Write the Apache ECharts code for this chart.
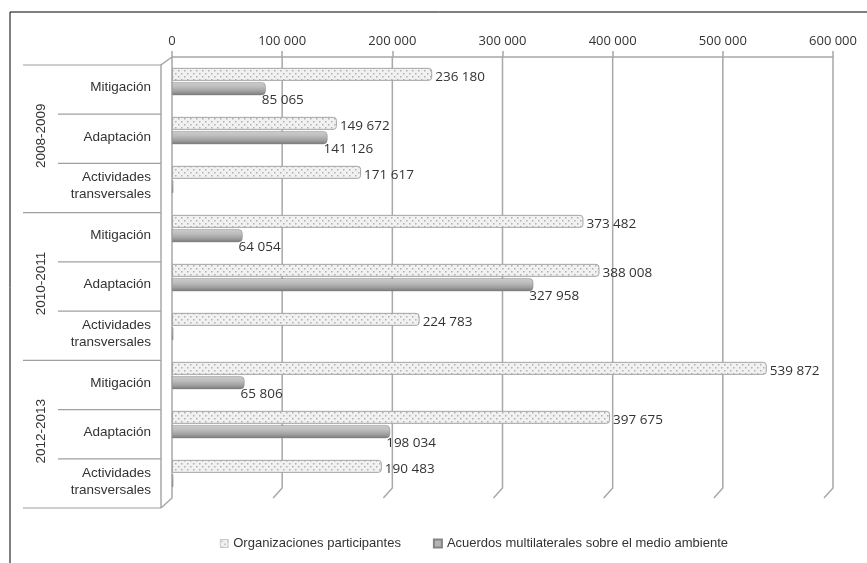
<!DOCTYPE html>
<html>
<head>
<meta charset="utf-8">
<script src="https://cdn.jsdelivr.net/npm/echarts@6/dist/echarts.min.js"></script>
<style>
  html, body { margin: 0; padding: 0; background: #fff; }
  #chart { width: 867px; height: 563px; }
</style>
</head>
<body>
<div id="chart"></div>
<script>
// Categories (rows, top to bottom) and the period each block of three rows belongs to
const categories = [
  'Mitigación', 'Adaptación', 'Actividades\ntransversales',
  'Mitigación', 'Adaptación', 'Actividades\ntransversales',
  'Mitigación', 'Adaptación', 'Actividades\ntransversales'
];
const periods = ['2008-2009', '2010-2011', '2012-2013'];

// Series values
const organizaciones = [236180, 149672, 171617, 373482, 388008, 224783, 539872, 397675, 190483];
const acuerdos = [85065, 141126, 1200, 64054, 327958, 1200, 65806, 198034, 1200];

// Value axis ticks
const xTicks = [0, 100000, 200000, 300000, 400000, 500000, 600000];

const seriesNames = ['Organizaciones participantes', 'Acuerdos multilaterales sobre el medio ambiente'];

const numFont = '"Open Sans", sans-serif';
const txtFont = '"Liberation Sans", Arial, sans-serif';
const gridColor = '#a8a8a8';

function fmt(v) {
  return String(v).replace(/\B(?=(\d{3})+(?!\d))/g, ' ');
}

// Dotted fill for the first series
function dottedPattern() {
  const c = document.createElement('canvas');
  c.width = 6; c.height = 6;
  const g = c.getContext('2d');
  g.fillStyle = '#f1f1f1';
  g.fillRect(0, 0, 6, 6);
  g.fillStyle = '#b0b0b0';
  g.fillRect(1, 1, 1.5, 1.5);
  g.fillRect(4, 4, 1.5, 1.5);
  return c;
}
const pattern = { image: dottedPattern(), repeat: 'repeat' };

const cylinder = {
  type: 'linear', x: 0, y: 0, x2: 0, y2: 1,
  colorStops: [
    { offset: 0, color: '#cccccc' },
    { offset: 0.35, color: '#bebebe' },
    { offset: 0.75, color: '#9c9c9c' },
    { offset: 1, color: '#767676' }
  ]
};

const chart = echarts.init(document.getElementById('chart'), null, { renderer: 'canvas' });

const option = {
  animation: false,
  backgroundColor: '#fff',
  grid: { left: 172, right: 34, top: 57, bottom: 65, containLabel: false },
  legend: {
    bottom: 8,
    left: 215,
    itemWidth: 8,
    itemHeight: 8,
    itemGap: 32,
    icon: 'rect',
    textStyle: { fontFamily: txtFont, fontSize: 13, color: '#333' },
    data: [
      { name: seriesNames[0], itemStyle: { color: pattern, borderColor: '#9a9a9a', borderWidth: 0.5 } },
      { name: seriesNames[1], itemStyle: { color: '#b4b4b4' } }
    ]
  },
  xAxis: {
    type: 'value',
    position: 'top',
    min: xTicks[0],
    max: xTicks[xTicks.length - 1],
    interval: xTicks[1] - xTicks[0],
    axisLine: { show: true, lineStyle: { color: gridColor, width: 1.5 } },
    axisTick: { show: true, length: 6, lineStyle: { color: gridColor, width: 1.5 } },
    splitLine: { show: false },
    axisLabel: {
      margin: 9,
      fontFamily: numFont,
      fontSize: 13,
      color: '#333',
      formatter: fmt
    }
  },
  yAxis: {
    type: 'category',
    inverse: true,
    data: categories,
    axisLine: { show: false },
    axisTick: { show: false },
    // row names are drawn on the front edge of the perspective wall below
    axisLabel: { show: false }
  },
  series: [
    {
      name: seriesNames[0],
      type: 'bar',
      data: organizaciones,
      barWidth: 13,
      barGap: '10%',
      itemStyle: {
        color: pattern,
        borderColor: '#a4a4a4',
        borderWidth: 1,
        borderRadius: [0, 3, 3, 0]
      },
      label: {
        show: true,
        position: 'right',
        distance: 3,
        offset: [0, 3],
        fontFamily: numFont,
        fontSize: 13.5,
        color: '#333',
        formatter: p => fmt(p.value)
      }
    },
    {
      name: seriesNames[1],
      type: 'bar',
      data: acuerdos,
      barWidth: 13,
      itemStyle: {
        color: cylinder,
        borderColor: '#858585',
        borderWidth: 0.5,
        borderRadius: [0, 4, 4, 0]
      },
      label: {
        show: true,
        position: 'right',
        distance: 0,
        offset: [-4, 12],
        fontFamily: numFont,
        fontSize: 13.5,
        color: '#333',
        // the small transversal amounts carry no label
        formatter: p => (p.value >= 10000 ? fmt(p.value) : '')
      }
    }
  ]
};

chart.setOption(option);

// Frame, perspective walls, gridlines, row separators and row names, positioned from the axes
function decorate() {
  const rect = chart.getModel().getComponent('grid').coordinateSystem.getRect();
  const top = rect.y, bottom = rect.y + rect.height;
  const dx = -11, dy = 8;        // depth offset of the front edge
  const frontRowH = (rect.height + 2) / categories.length;
  const front0 = chart.convertToPixel({ xAxisIndex: 0 }, xTicks[0]) + dx;
  const els = [];
  const line = (pts, color, w) => els.push({
    type: 'polyline', silent: true, z: 1,
    shape: { points: pts },
    style: { stroke: color, lineWidth: w, fill: null }
  });
  const text = (str, x, y, align, rot) => els.push({
    type: 'text', silent: true, z: 5,
    x: x, y: y, rotation: rot || 0,
    style: {
      text: str, fontFamily: txtFont, fontSize: 13.5, lineHeight: 17, fill: '#333',
      align: align, verticalAlign: 'middle'
    }
  });

  // outer frame (top and left edges)
  line([[10, 563], [10, 12], [867, 12]], '#000', 1);

  // back-wall gridlines with their floor diagonals
  xTicks.forEach((v, i) => {
    const px = chart.convertToPixel({ xAxisIndex: 0 }, v);
    if (i === 0) {
      line([[px, top], [px, bottom], [px + dx, bottom + dy + 2]], gridColor, 1.5);
    } else {
      line([[px, top], [px, bottom - 10], [px + dx + 2, bottom]], gridColor, 1.5);
    }
  });

  // left wall front edge
  line([[rect.x, top], [front0, top + dy], [front0, bottom + dy + 2]], gridColor, 1.5);

  // row separators in the label column
  for (let k = 0; k <= categories.length; k++) {
    const y = top + dy + k * frontRowH;
    const x0 = (k % 3 === 0) ? 23 : 58;
    line([[x0, y], [front0, y]], '#a0a0a0', 1.2);
  }

  // row names
  categories.forEach((c, k) => {
    text(c, front0 - 10, top + dy + (k + 0.5) * frontRowH - 2, 'right');
  });

  // period labels, rotated
  periods.forEach((p, i) => {
    text(p, 41, top + dy + (i * 3 + 1.5) * frontRowH - 3, 'center', Math.PI / 2);
  });

  chart.setOption({ graphic: { elements: els } });
}
decorate();
</script>
</body>
</html>
